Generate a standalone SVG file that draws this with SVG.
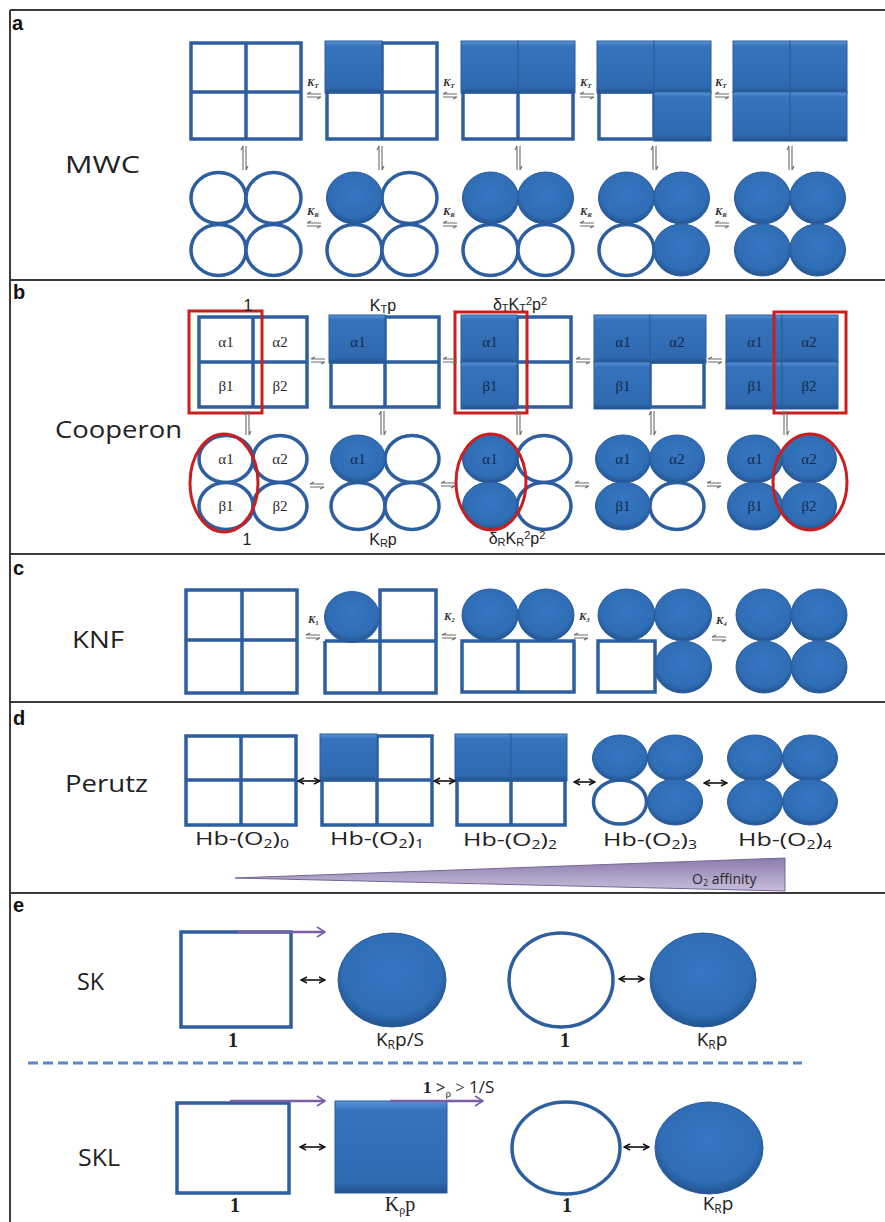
<svg xmlns="http://www.w3.org/2000/svg" width="885" height="1222" viewBox="0 0 885 1222">
<style>
  .frame{stroke:#3a3a3a;stroke-width:2;fill:none}
  .plabel{font-family:"Liberation Sans",Arial,sans-serif;font-weight:bold;font-size:20px;fill:#111}
  .model{font-family:"Open Sans","Liberation Sans",sans-serif;font-size:24px;fill:#222}
  .sq{fill:#fff;stroke:#2d5e9f;stroke-width:3.5}
  .grid{stroke:#2d5e9f;stroke-width:3.5;fill:none}
  .cell{fill:url(#gSq);stroke:#2a5c9c;stroke-width:1}
  .ring{fill:#fff;stroke:#2d5e9f;stroke-width:3.5}
  .ball{fill:url(#gBall);stroke:#2a5c9c;stroke-width:1}
  .k{font-family:"Liberation Serif",serif;font-style:italic;font-weight:bold;font-size:11px;fill:#333}
  .sub{font-size:7px}
  .eq{stroke:#6b6b6b;stroke-width:1.1;fill:none}
  .g{font-family:"Liberation Serif",serif;font-size:15px;text-anchor:middle;fill:#2a2a2a}
  .gf{font-family:"Liberation Serif",serif;font-size:15px;text-anchor:middle;fill:#18284a}
  .lab{font-family:"Liberation Sans",Arial,sans-serif;font-size:16px;text-anchor:middle;fill:#222}
  .hb{font-family:"Open Sans","Liberation Sans",sans-serif;font-size:19px;text-anchor:middle;fill:#222}
  .red{fill:none;stroke:#cc1e1e;stroke-width:3}
  .dbl{stroke:#111;stroke-width:1.6;fill:none;marker-start:url(#ah);marker-end:url(#ah)}
  .pur{stroke:#7a5ea8;stroke-width:2.5;fill:none;marker-end:url(#ph)}
  .num{font-family:"Liberation Serif",serif;font-weight:bold;font-size:20px;text-anchor:middle;fill:#222}
  .kr{font-family:"Liberation Serif",serif;font-size:20px;text-anchor:middle;fill:#222}
  .kp{font-family:"Open Sans","Liberation Sans",sans-serif;font-size:19px;text-anchor:middle;fill:#222}
  .lo{font-size:11px}
  .lo12{font-size:12px}
</style>
<defs>
  <linearGradient id="gSq" x1="0" y1="0" x2="0" y2="1">
    <stop offset="0" stop-color="#5a95d8"/>
    <stop offset="0.1" stop-color="#3673bc"/>
    <stop offset="0.88" stop-color="#2f6ab1"/>
    <stop offset="1" stop-color="#22528c"/>
  </linearGradient>
  <radialGradient id="gBall" cx="0.5" cy="0.42" r="0.58">
    <stop offset="0" stop-color="#3677c2"/>
    <stop offset="0.78" stop-color="#2f6db5"/>
    <stop offset="1" stop-color="#22548f"/>
  </radialGradient>
  <linearGradient id="gTri" x1="0" y1="0" x2="0" y2="1">
    <stop offset="0" stop-color="#8b7bab"/>
    <stop offset="1" stop-color="#c8bedb"/>
  </linearGradient>
  <symbol id="eqH" viewBox="0 0 16 7" width="16" height="7" overflow="visible">
    <path class="eq" d="M1 2H15M1 2l4-2M1 5H15M15 5l-4 2"/>
  </symbol>
  <symbol id="eqV" viewBox="0 0 7 26" width="7" height="26" overflow="visible">
    <path class="eq" d="M2 1V25M2 1l-2 4M5 1V25M5 25l2-4"/>
  </symbol>
  <marker id="ah" viewBox="0 0 8 8" refX="7" refY="4" markerWidth="5" markerHeight="5" orient="auto-start-reverse" markerUnits="strokeWidth">
    <path d="M1 1L7 4L1 7" fill="none" stroke="#111" stroke-width="1.4"/>
  </marker>
  <marker id="ph" viewBox="0 0 10 12" refX="9" refY="6" markerWidth="4" markerHeight="4.8" orient="auto" markerUnits="strokeWidth">
    <path d="M1 1L9 6L1 11" fill="none" stroke="#7a5ea8" stroke-width="1.6"/>
  </marker>
</defs>

<rect x="0" y="0" width="885" height="1222" fill="#fff"/>

<!-- frame and panel dividers -->
<g id="frame">
  <path class="frame" d="M10 10V1222M10 10H885M10 280H885M10 554H885M10 702H885M10 893H885"/>
  <text class="plabel" x="12" y="30">a</text>
  <text class="plabel" x="13" y="299">b</text>
  <text class="plabel" x="13" y="575">c</text>
  <text class="plabel" x="13" y="725">d</text>
  <text class="plabel" x="13" y="912">e</text>
</g>

<!-- ===== a: MWC ===== -->
<g id="mwc">
  <text class="model" x="65" y="173" textLength="75" lengthAdjust="spacingAndGlyphs">MWC</text>
  <g id="mwc-T0">
    <rect class="sq" x="191" y="43" width="110" height="96"/>
    <path class="grid" d="M246 43V139M191 92H301"/>
  </g>
  <g id="mwc-T1">
    <rect class="sq" x="327" y="43" width="110" height="96"/>
    <path class="grid" d="M382 43V139M327 92H437"/>
    <rect class="cell" x="325" y="41" width="57" height="52"/>
  </g>
  <g id="mwc-T2">
    <rect class="sq" x="463" y="43" width="110" height="96"/>
    <path class="grid" d="M518 43V139M463 92H573"/>
    <rect class="cell" x="461" y="41" width="57" height="52"/>
    <rect class="cell" x="518" y="41" width="57" height="52"/>
  </g>
  <g id="mwc-T3">
    <rect class="sq" x="599" y="43" width="110" height="96"/>
    <path class="grid" d="M654 43V139M599 92H709"/>
    <rect class="cell" x="597" y="41" width="57" height="52"/>
    <rect class="cell" x="654" y="41" width="57" height="52"/>
    <rect class="cell" x="654" y="92" width="57" height="49"/>
  </g>
  <g id="mwc-T4">
    <rect class="cell" x="733" y="41" width="57" height="52"/>
    <rect class="cell" x="790" y="41" width="57" height="52"/>
    <rect class="cell" x="733" y="92" width="57" height="49"/>
    <rect class="cell" x="790" y="92" width="57" height="49"/>
  </g>
  <g id="mwc-R0">
    <ellipse class="ring" cx="218.5" cy="198" rx="27.5" ry="25.5"/>
    <ellipse class="ring" cx="273.5" cy="198" rx="27.5" ry="25.5"/>
    <ellipse class="ring" cx="218.5" cy="250" rx="27.5" ry="25.5"/>
    <ellipse class="ring" cx="273.5" cy="250" rx="27.5" ry="25.5"/>
  </g>
  <g id="mwc-R1">
    <ellipse class="ring" cx="409.5" cy="198" rx="27.5" ry="25.5"/>
    <ellipse class="ring" cx="354.5" cy="250" rx="27.5" ry="25.5"/>
    <ellipse class="ring" cx="409.5" cy="250" rx="27.5" ry="25.5"/>
    <ellipse class="ball" cx="354.5" cy="198" rx="28" ry="26"/>
  </g>
  <g id="mwc-R2">
    <ellipse class="ring" cx="490.5" cy="250" rx="27.5" ry="25.5"/>
    <ellipse class="ring" cx="545.5" cy="250" rx="27.5" ry="25.5"/>
    <ellipse class="ball" cx="490.5" cy="198" rx="28" ry="26"/>
    <ellipse class="ball" cx="545.5" cy="198" rx="28" ry="26"/>
  </g>
  <g id="mwc-R3">
    <ellipse class="ring" cx="626.5" cy="250" rx="27.5" ry="25.5"/>
    <ellipse class="ball" cx="626.5" cy="198" rx="28" ry="26"/>
    <ellipse class="ball" cx="681.5" cy="198" rx="28" ry="26"/>
    <ellipse class="ball" cx="681.5" cy="250" rx="28" ry="26"/>
  </g>
  <g id="mwc-R4">
    <ellipse class="ball" cx="762.5" cy="198" rx="28" ry="26"/>
    <ellipse class="ball" cx="817.5" cy="198" rx="28" ry="26"/>
    <ellipse class="ball" cx="762.5" cy="250" rx="28" ry="26"/>
    <ellipse class="ball" cx="817.5" cy="250" rx="28" ry="26"/>
  </g>
</g>

<!-- ===== b: Cooperon ===== -->
<g id="cooperon">
  <text class="model" x="55" y="438" textLength="127" lengthAdjust="spacingAndGlyphs">Cooperon</text>
  <g id="coop-T0">
    <rect class="sq" x="199" y="317" width="108" height="90"/>
    <path class="grid" d="M253 317V407M199 362H307"/>
    <text class="g" x="226" y="347">α1</text><text class="g" x="280" y="347">α2</text>
    <text class="g" x="226" y="391">β1</text><text class="g" x="280" y="391">β2</text>
  </g>
  <g id="coop-T1">
    <rect class="sq" x="331" y="317" width="108" height="90"/>
    <path class="grid" d="M385 317V407M331 362H439"/>
    <rect class="cell" x="329" y="315" width="56" height="48"/>
    <text class="gf" x="358" y="347">α1</text>
  </g>
  <g id="coop-T2">
    <rect class="sq" x="463" y="317" width="108" height="90"/>
    <path class="grid" d="M517 317V407M463 362H571"/>
    <rect class="cell" x="461" y="315" width="56" height="48"/>
    <rect class="cell" x="461" y="362" width="56" height="47"/>
    <text class="gf" x="490" y="347">α1</text><text class="gf" x="490" y="391">β1</text>
  </g>
  <g id="coop-T3">
    <rect class="sq" x="596" y="317" width="108" height="90"/>
    <path class="grid" d="M650 317V407M596 362H704"/>
    <rect class="cell" x="594" y="315" width="56" height="48"/>
    <rect class="cell" x="650" y="315" width="56" height="48"/>
    <rect class="cell" x="594" y="362" width="56" height="47"/>
    <text class="gf" x="623" y="347">α1</text><text class="gf" x="677" y="347">α2</text>
    <text class="gf" x="623" y="391">β1</text>
  </g>
  <g id="coop-T4">
    <rect class="cell" x="726" y="315" width="56" height="48"/>
    <rect class="cell" x="782" y="315" width="56" height="48"/>
    <rect class="cell" x="726" y="362" width="56" height="47"/>
    <rect class="cell" x="782" y="362" width="56" height="47"/>
    <text class="gf" x="755" y="347">α1</text><text class="gf" x="809" y="347">α2</text>
    <text class="gf" x="755" y="391">β1</text><text class="gf" x="809" y="391">β2</text>
  </g>
  <g id="coop-R0">
    <ellipse class="ring" cx="226" cy="459" rx="27" ry="23.5"/>
    <ellipse class="ring" cx="280" cy="459" rx="27" ry="23.5"/>
    <ellipse class="ring" cx="226" cy="506" rx="27" ry="23.5"/>
    <ellipse class="ring" cx="280" cy="506" rx="27" ry="23.5"/>
    <text class="g" x="226" y="464">α1</text><text class="g" x="280" y="464">α2</text>
    <text class="g" x="226" y="511">β1</text><text class="g" x="280" y="511">β2</text>
  </g>
  <g id="coop-R1">
    <ellipse class="ring" cx="412" cy="459" rx="27" ry="23.5"/>
    <ellipse class="ring" cx="358" cy="506" rx="27" ry="23.5"/>
    <ellipse class="ring" cx="412" cy="506" rx="27" ry="23.5"/>
    <ellipse class="ball" cx="358" cy="459" rx="27.5" ry="24"/>
    <text class="gf" x="358" y="464">α1</text>
  </g>
  <g id="coop-R2">
    <ellipse class="ring" cx="544" cy="459" rx="27" ry="23.5"/>
    <ellipse class="ring" cx="544" cy="506" rx="27" ry="23.5"/>
    <ellipse class="ball" cx="490" cy="459" rx="27.5" ry="24"/>
    <ellipse class="ball" cx="490" cy="506" rx="27.5" ry="24"/>
    <text class="gf" x="490" y="464">α1</text>
  </g>
  <g id="coop-R3">
    <ellipse class="ring" cx="677" cy="506" rx="27" ry="23.5"/>
    <ellipse class="ball" cx="623" cy="459" rx="27.5" ry="24"/>
    <ellipse class="ball" cx="677" cy="459" rx="27.5" ry="24"/>
    <ellipse class="ball" cx="623" cy="506" rx="27.5" ry="24"/>
    <text class="gf" x="623" y="464">α1</text><text class="gf" x="677" y="464">α2</text>
    <text class="gf" x="623" y="511">β1</text>
  </g>
  <g id="coop-R4">
    <ellipse class="ball" cx="755" cy="459" rx="27.5" ry="24"/>
    <ellipse class="ball" cx="809" cy="459" rx="27.5" ry="24"/>
    <ellipse class="ball" cx="755" cy="506" rx="27.5" ry="24"/>
    <ellipse class="ball" cx="809" cy="506" rx="27.5" ry="24"/>
    <text class="gf" x="755" y="464">α1</text><text class="gf" x="809" y="464">α2</text>
    <text class="gf" x="755" y="511">β1</text><text class="gf" x="809" y="511">β2</text>
  </g>
  <g id="coop-highlight">
    <rect class="red" x="189" y="311" width="73" height="102"/>
    <rect class="red" x="455" y="312" width="72" height="101"/>
    <rect class="red" x="774" y="312" width="72" height="101"/>
    <ellipse class="red" cx="224" cy="483" rx="34" ry="49"/>
    <ellipse class="red" cx="491" cy="482" rx="35" ry="48"/>
    <ellipse class="red" cx="810" cy="482" rx="37" ry="48"/>
  </g>
  <g id="coop-weights">
    <text class="lab" x="248" y="311">1</text>
    <text class="lab" x="383" y="311">K<tspan class="lo" baseline-shift="-2">T</tspan>p</text>
    <text class="lab" x="520" y="310">δ<tspan class="lo" baseline-shift="-2">T</tspan>K<tspan class="lo" baseline-shift="-2">T</tspan><tspan class="lo" baseline-shift="5">2</tspan>p<tspan class="lo" baseline-shift="5">2</tspan></text>
    <text class="lab" x="247" y="545">1</text>
    <text class="lab" x="383" y="545">K<tspan class="lo" baseline-shift="-2">R</tspan>p</text>
    <text class="lab" x="517" y="544">δ<tspan class="lo" baseline-shift="-2">R</tspan>K<tspan class="lo" baseline-shift="-2">R</tspan><tspan class="lo" baseline-shift="5">2</tspan>p<tspan class="lo" baseline-shift="5">2</tspan></text>
  </g>
</g>

<!-- ===== c: KNF ===== -->
<g id="knf">
  <text class="model" x="72" y="648" textLength="52" lengthAdjust="spacingAndGlyphs">KNF</text>
  <g id="knf-0">
    <rect class="sq" x="186" y="590" width="111" height="103"/>
    <path class="grid" d="M242 590V693M186 640H297"/>
  </g>
  <g id="knf-1">
    <path class="grid" d="M325 641V693H436V590H380V693M325 641H436"/>
    <ellipse class="ball" cx="352" cy="617" rx="27.5" ry="25.5"/>
  </g>
  <g id="knf-2">
    <path class="grid" d="M462 641H574V692H462ZM518 641V692"/>
    <ellipse class="ball" cx="490" cy="615" rx="28" ry="26"/>
    <ellipse class="ball" cx="546" cy="615" rx="28" ry="26"/>
  </g>
  <g id="knf-3">
    <rect class="sq" x="598" y="641" width="57" height="51"/>
    <ellipse class="ball" cx="626.5" cy="615" rx="28.5" ry="26"/>
    <ellipse class="ball" cx="683" cy="615" rx="28.5" ry="26"/>
    <ellipse class="ball" cx="683" cy="667" rx="28.5" ry="26"/>
  </g>
  <g id="knf-4">
    <ellipse class="ball" cx="764" cy="615" rx="28" ry="26"/>
    <ellipse class="ball" cx="819" cy="615" rx="28" ry="26"/>
    <ellipse class="ball" cx="764" cy="667" rx="28" ry="26"/>
    <ellipse class="ball" cx="819" cy="667" rx="28" ry="26"/>
  </g>
</g>

<!-- ===== d: Perutz ===== -->
<g id="perutz">
  <text class="model" x="65" y="792" textLength="83" lengthAdjust="spacingAndGlyphs">Perutz</text>
  <g id="hb0">
    <rect class="sq" x="186" y="736" width="110" height="89"/>
    <path class="grid" d="M241 736V825M186 780H296"/>
    <text class="hb" x="242" y="845" textLength="94" lengthAdjust="spacingAndGlyphs">Hb-(O<tspan class="lo12" baseline-shift="-3">2</tspan>)<tspan class="lo12" baseline-shift="-3">0</tspan></text>
  </g>
  <g id="hb1">
    <rect class="sq" x="322" y="736" width="110" height="89"/>
    <path class="grid" d="M377 736V825M322 780H432"/>
    <rect class="cell" x="320" y="734" width="57" height="47"/>
    <text class="hb" x="377" y="845" textLength="94" lengthAdjust="spacingAndGlyphs">Hb-(O<tspan class="lo12" baseline-shift="-3">2</tspan>)<tspan class="lo12" baseline-shift="-3">1</tspan></text>
  </g>
  <g id="hb2">
    <rect class="sq" x="457" y="736" width="108" height="89"/>
    <path class="grid" d="M511 736V825M457 780H565"/>
    <rect class="cell" x="455" y="734" width="56" height="47"/>
    <rect class="cell" x="511" y="734" width="56" height="47"/>
    <text class="hb" x="510" y="846" textLength="94" lengthAdjust="spacingAndGlyphs">Hb-(O<tspan class="lo12" baseline-shift="-3">2</tspan>)<tspan class="lo12" baseline-shift="-3">2</tspan></text>
  </g>
  <g id="hb3">
    <ellipse class="ring" cx="620" cy="802" rx="26.5" ry="22"/>
    <ellipse class="ball" cx="620" cy="758" rx="27.5" ry="23"/>
    <ellipse class="ball" cx="675" cy="758" rx="27.5" ry="23"/>
    <ellipse class="ball" cx="675" cy="802" rx="27.5" ry="23"/>
    <text class="hb" x="650" y="846" textLength="94" lengthAdjust="spacingAndGlyphs">Hb-(O<tspan class="lo12" baseline-shift="-3">2</tspan>)<tspan class="lo12" baseline-shift="-3">3</tspan></text>
  </g>
  <g id="hb4">
    <ellipse class="ball" cx="755" cy="758" rx="27.5" ry="23"/>
    <ellipse class="ball" cx="810" cy="758" rx="27.5" ry="23"/>
    <ellipse class="ball" cx="755" cy="802" rx="27.5" ry="23"/>
    <ellipse class="ball" cx="810" cy="802" rx="27.5" ry="23"/>
    <text class="hb" x="785" y="846" textLength="94" lengthAdjust="spacingAndGlyphs">Hb-(O<tspan class="lo12" baseline-shift="-3">2</tspan>)<tspan class="lo12" baseline-shift="-3">4</tspan></text>
  </g>
  <g id="affinity">
    <polygon points="235,878 785,858 785,891" fill="url(#gTri)" stroke="#75669a" stroke-width="1"/>
    <text x="692" y="884" font-family="'Open Sans','Liberation Sans',sans-serif" font-size="14" fill="#2a2a2a">O<tspan font-size="9" baseline-shift="-2">2</tspan> affinity</text>
  </g>
</g>

<!-- ===== e: SK / SKL ===== -->
<g id="sk">
  <text class="model" x="77" y="990" textLength="27" lengthAdjust="spacingAndGlyphs">SK</text>
  <g id="sk-T">
    <rect class="sq" x="181" y="932" width="110" height="95" stroke-width="3"/>
    <text class="num" x="233" y="1047">1</text>
  </g>
  <g id="sk-R-lig">
    <ellipse class="ball" cx="392" cy="980" rx="54" ry="47"/>
    <text class="kp" x="400" y="1046">K<tspan class="lo12" baseline-shift="-3">R</tspan>p/S</text>
  </g>
  <g id="sk-ring">
    <ellipse class="ring" cx="561" cy="980" rx="52" ry="47" stroke-width="3"/>
    <text class="num" x="565" y="1047">1</text>
  </g>
  <g id="sk-ball">
    <ellipse class="ball" cx="703" cy="980" rx="53" ry="47"/>
    <text class="kp" x="712" y="1046">K<tspan class="lo12" baseline-shift="-3">R</tspan>p</text>
  </g>
</g>
<line x1="28" y1="1063" x2="802" y2="1063" stroke="#5b87c9" stroke-width="3" stroke-dasharray="10 5"/>
<g id="skl">
  <text class="model" x="78" y="1166" textLength="42" lengthAdjust="spacingAndGlyphs">SKL</text>
  <g id="skl-T">
    <rect class="sq" x="177" y="1103" width="112" height="90" stroke-width="3"/>
    <text class="num" x="235" y="1212">1</text>
  </g>
  <g id="skl-T-lig">
    <rect class="cell" x="335" y="1101" width="112" height="92"/>
    <text class="kr" x="400" y="1211">K<tspan class="lo12" baseline-shift="-3">ρ</tspan>p</text>
  </g>
  <text x="423" y="1093" font-family="'Liberation Serif',serif" font-size="17" fill="#222"><tspan font-weight="bold">1 &gt;</tspan><tspan font-size="11" baseline-shift="-4">ρ</tspan><tspan> &gt; </tspan><tspan font-family="'Open Sans','Liberation Sans',sans-serif">1/S</tspan></text>
  <g id="skl-ring">
    <ellipse class="ring" cx="566" cy="1148" rx="54" ry="46" stroke-width="3"/>
    <text class="num" x="567" y="1212">1</text>
  </g>
  <g id="skl-ball">
    <ellipse class="ball" cx="709" cy="1148" rx="54" ry="46"/>
    <text class="kp" x="718" y="1210">K<tspan class="lo12" baseline-shift="-3">R</tspan>p</text>
  </g>
</g>

<!-- ===== connectors ===== -->
<g id="connectors">
  <!-- MWC horizontal equilibria -->
  <use href="#eqH" x="306" y="92"/><use href="#eqH" x="442" y="92"/><use href="#eqH" x="579" y="92"/><use href="#eqH" x="714" y="92"/>
  <use href="#eqH" x="306" y="221"/><use href="#eqH" x="442" y="221"/><use href="#eqH" x="579" y="221"/><use href="#eqH" x="714" y="221"/>
  <text class="k" x="307" y="86">K<tspan class="sub" dy="2">T</tspan></text>
  <text class="k" x="443" y="86">K<tspan class="sub" dy="2">T</tspan></text>
  <text class="k" x="580" y="86">K<tspan class="sub" dy="2">T</tspan></text>
  <text class="k" x="715" y="86">K<tspan class="sub" dy="2">T</tspan></text>
  <text class="k" x="307" y="215">K<tspan class="sub" dy="2">R</tspan></text>
  <text class="k" x="443" y="215">K<tspan class="sub" dy="2">R</tspan></text>
  <text class="k" x="580" y="215">K<tspan class="sub" dy="2">R</tspan></text>
  <text class="k" x="715" y="215">K<tspan class="sub" dy="2">R</tspan></text>
  <!-- MWC vertical equilibria -->
  <use href="#eqV" x="241" y="145"/><use href="#eqV" x="377" y="145"/><use href="#eqV" x="515" y="145"/><use href="#eqV" x="651" y="145"/><use href="#eqV" x="787" y="145"/>
  <!-- Cooperon equilibria -->
  <use href="#eqH" x="310" y="357"/><use href="#eqH" x="442" y="357"/><use href="#eqH" x="575" y="357"/><use href="#eqH" x="707" y="357"/>
  <use href="#eqH" x="309" y="482"/><use href="#eqH" x="440" y="481"/><use href="#eqH" x="574" y="481"/><use href="#eqH" x="706" y="481"/>
  <use href="#eqV" x="244" y="410"/><use href="#eqV" x="379" y="410"/><use href="#eqV" x="515" y="410"/><use href="#eqV" x="649" y="410"/><use href="#eqV" x="782" y="410"/>
  <!-- KNF equilibria -->
  <use href="#eqH" x="305" y="633"/><use href="#eqH" x="441" y="633"/><use href="#eqH" x="573" y="633"/><use href="#eqH" x="711" y="635"/>
  <text class="k" x="308" y="623">K<tspan class="sub" dy="2">1</tspan></text>
  <text class="k" x="444" y="620">K<tspan class="sub" dy="2">2</tspan></text>
  <text class="k" x="579" y="620">K<tspan class="sub" dy="2">3</tspan></text>
  <text class="k" x="716" y="624">K<tspan class="sub" dy="2">4</tspan></text>
  <!-- Perutz transitions -->
  <path class="dbl" d="M298 781H320"/>
  <path class="dbl" d="M434 781H455"/>
  <path class="dbl" d="M574 782H595"/>
  <path class="dbl" d="M704 783H727"/>
  <!-- SK / SKL transitions -->
  <path class="dbl" d="M301 980H325"/>
  <path class="dbl" d="M619 979H644"/>
  <path class="dbl" d="M300 1147H325"/>
  <path class="dbl" d="M624 1147H649"/>
  <path class="pur" d="M237 932H325"/>
  <path class="pur" d="M230 1101H325"/>
  <path class="pur" d="M390 1101H483"/>
</g>
</svg>
